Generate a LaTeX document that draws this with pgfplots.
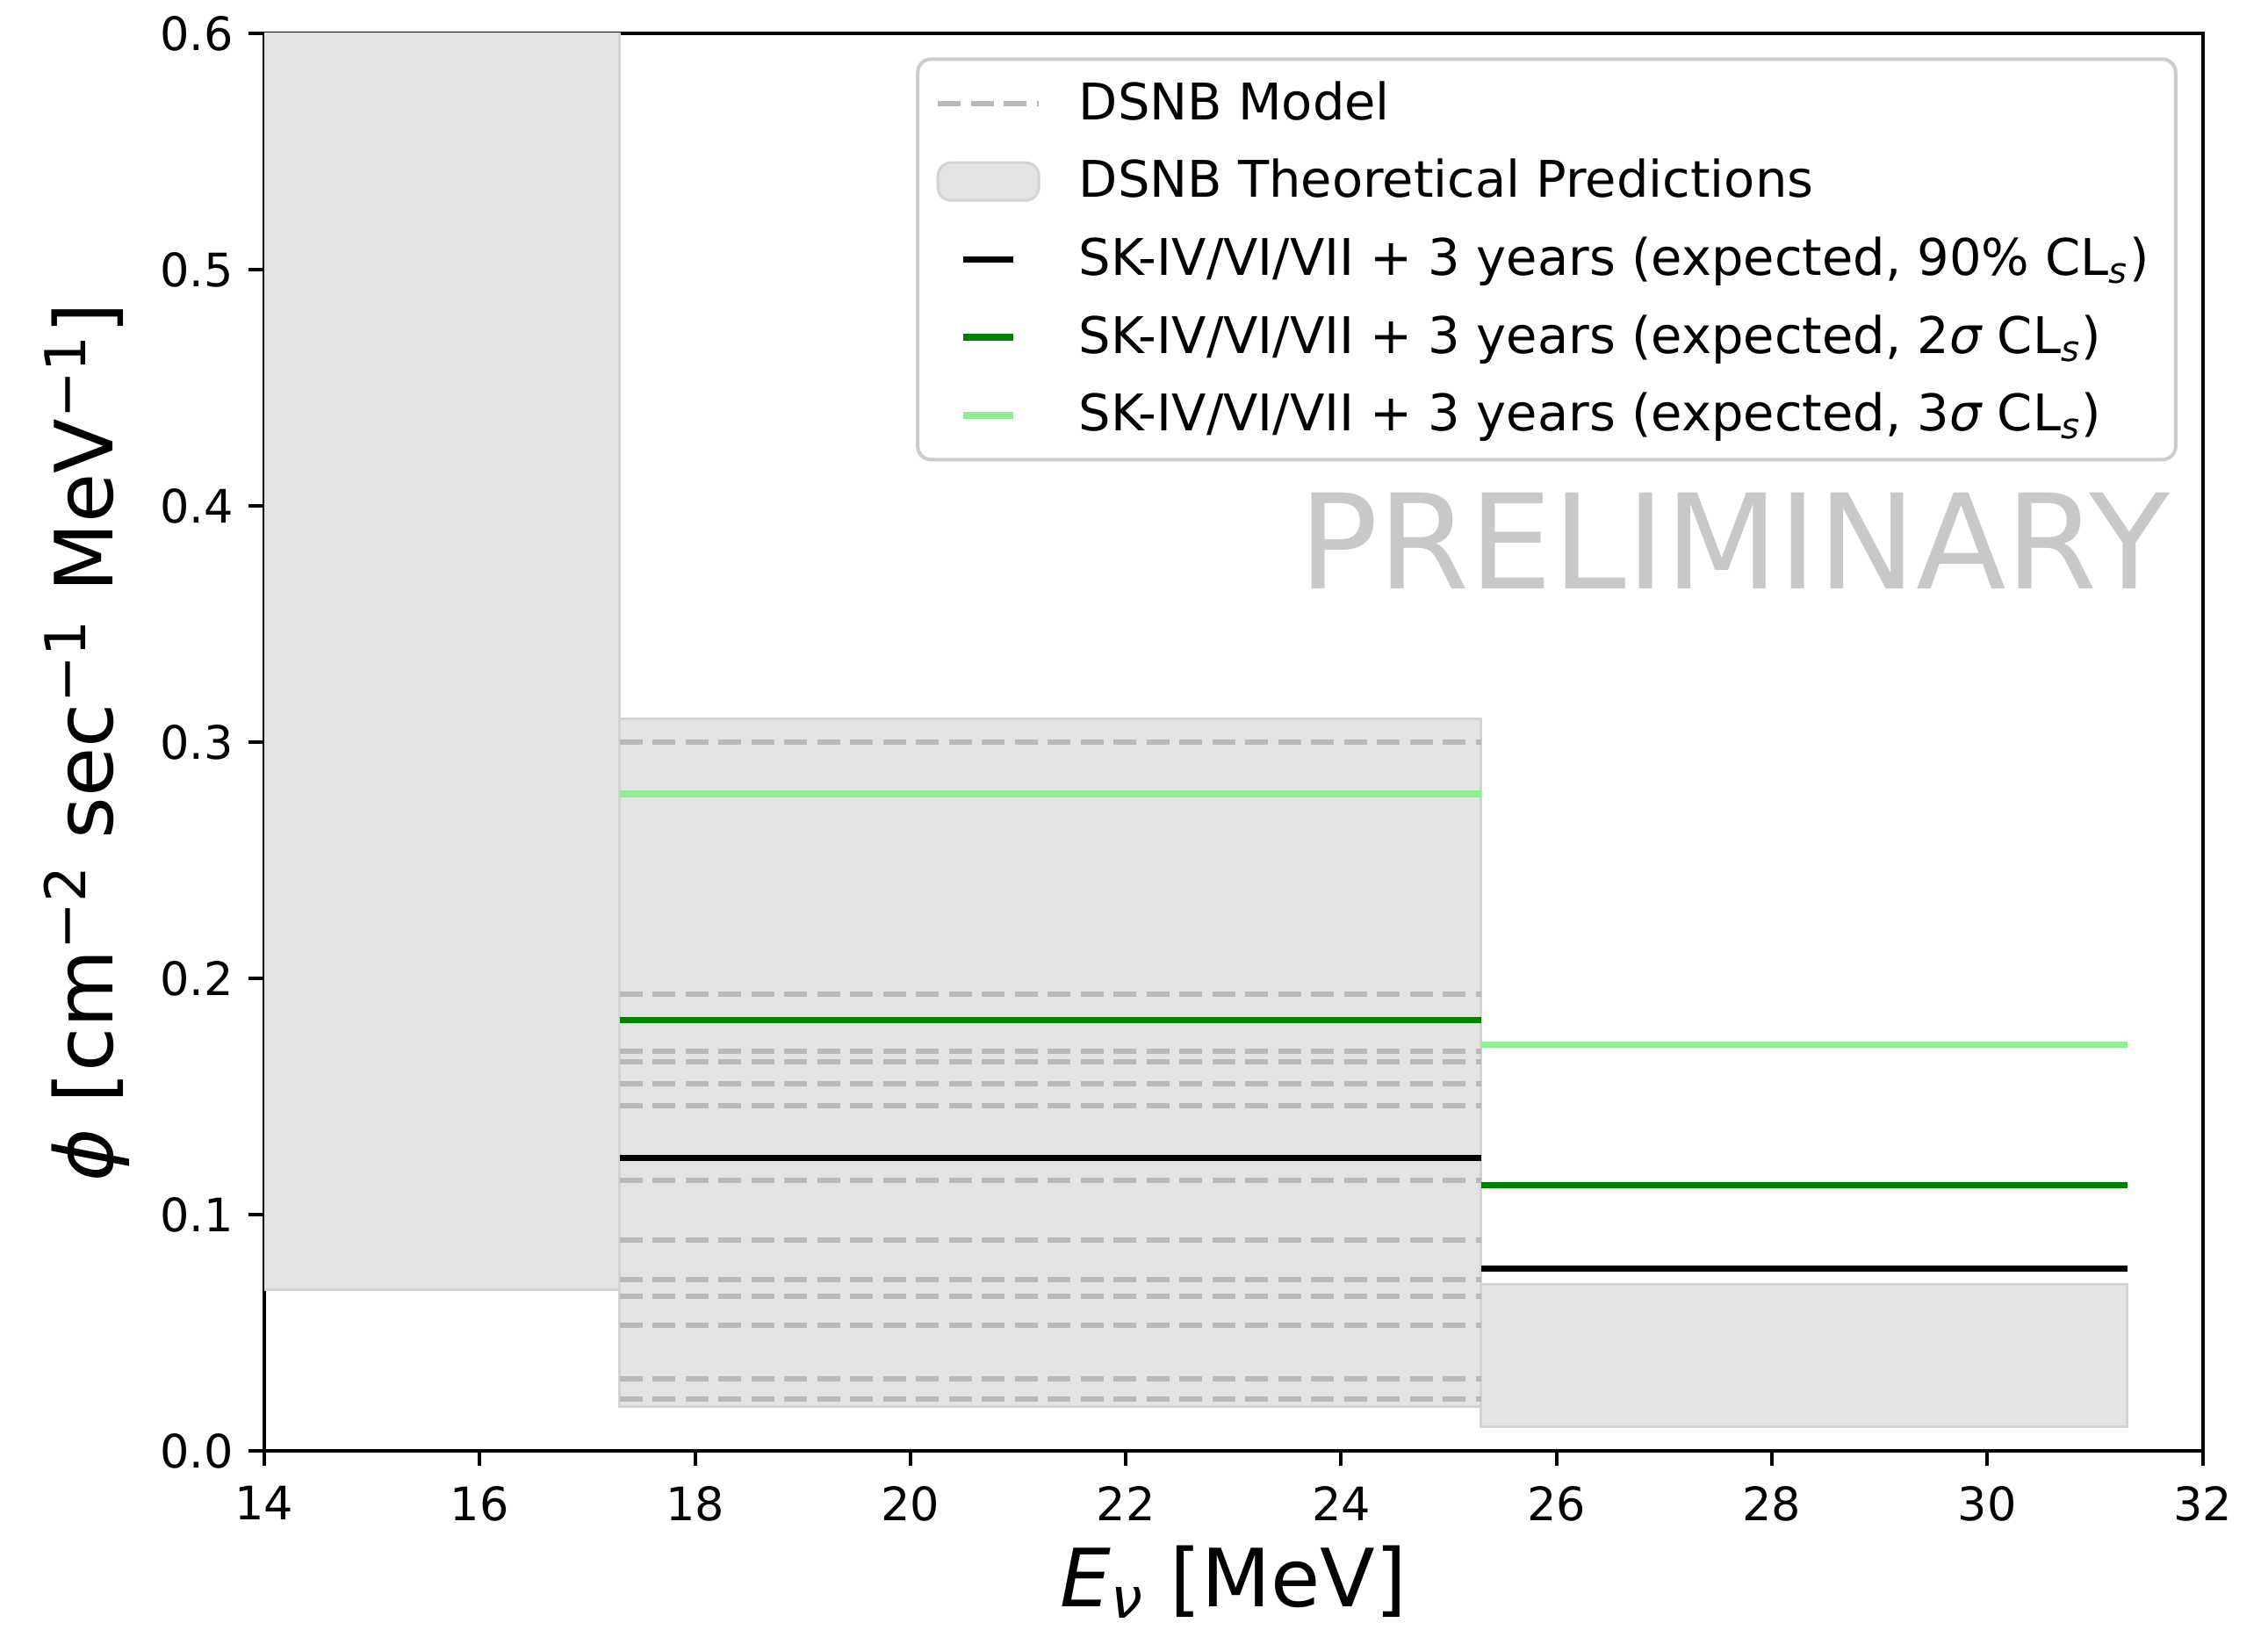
\documentclass[border=0pt]{standalone}
\usepackage{fontspec}
\setmainfont{DejaVu Sans}
\usepackage{pgfplots}
\usepackage{pgfplotstable}
\pgfplotsset{compat=1.18}

\definecolor{bandfill}{RGB}{227,227,227}
\definecolor{bandedge}{RGB}{211,211,211}
\definecolor{modelgray}{RGB}{185,185,185}
\definecolor{limgreen}{RGB}{0,128,0}
\definecolor{limlight}{RGB}{144,238,144}
\definecolor{watermark}{RGB}{200,200,200}
\definecolor{legendedge}{RGB}{204,204,204}

% legend handles
\pgfplotsset{
  shortline/.style={legend image code/.code={\draw[##1] (5.75pt,0pt) -- (17.25pt,0pt);}},
  longline/.style={legend image code/.code={\draw[##1] (0pt,0pt) -- (23pt,0pt);}},
  bandbox/.style={legend image code/.code={\draw[##1] (0pt,-4.3pt) rectangle (23pt,4.3pt);}},
}

% DSNB model predictions in the 17.3--25.3 MeV bin (one segment per model)
\pgfplotstableread{
x y
17.3 0.3000
25.3 0.3000
nan nan
17.3 0.1934
25.3 0.1934
nan nan
17.3 0.1690
25.3 0.1690
nan nan
17.3 0.1646
25.3 0.1646
nan nan
17.3 0.1555
25.3 0.1555
nan nan
17.3 0.1462
25.3 0.1462
nan nan
17.3 0.1145
25.3 0.1145
nan nan
17.3 0.0891
25.3 0.0891
nan nan
17.3 0.0724
25.3 0.0724
nan nan
17.3 0.0655
25.3 0.0655
nan nan
17.3 0.0532
25.3 0.0532
nan nan
17.3 0.0306
25.3 0.0306
nan nan
17.3 0.0221
25.3 0.0221
}\modeltable

% expected limits per energy bin
\pgfplotstableread{
x y
17.3 0.1240
25.3 0.1240
nan nan
25.3 0.0772
31.3 0.0772
}\limninety

\pgfplotstableread{
x y
17.3 0.1823
25.3 0.1823
nan nan
25.3 0.1125
31.3 0.1125
}\limtwosigma

\pgfplotstableread{
x y
17.3 0.2780
25.3 0.2780
nan nan
25.3 0.1720
31.3 0.1720
}\limthreesigma

\begin{document}
\begin{tikzpicture}
\begin{axis}[
  scale only axis,
  width=441.5pt, height=322.8pt,
  xmin=14, xmax=32, ymin=0, ymax=0.6,
  xtick={14,16,18,20,22,24,26,28,30,32},
  ytick={0,0.1,0.2,0.3,0.4,0.5,0.6},
  tick align=outside,
  tick pos=left,
  major tick length=3.5pt,
  tick style={black, line width=0.8pt},
  axis line style={line width=0.8pt},
  /pgf/number format/assume math mode=true,
  ticklabel style={font=\fontsize{10.5}{12.6}\selectfont},
  xticklabel style={yshift=-1pt},
  yticklabel style={/pgf/number format/.cd, fixed, fixed zerofill, precision=1},
  unbounded coords=jump,
  clip=true,
  xlabel={{\itshape E}\textsubscript{\itshape ν} [MeV]},
  ylabel={{\itshape ϕ} [cm\textsuperscript{−2} sec\textsuperscript{−1} MeV\textsuperscript{−1}]},
  label style={font=\fontsize{18.3}{22}\selectfont},
  xlabel style={at={(axis description cs:0.5,-0.110)}, anchor=base},
  ylabel style={at={(axis description cs:-0.0915,0.5)}, anchor=center},
  legend cell align=left,
  legend style={
    at={(0.987,0.983)}, anchor=north east,
    font=\fontsize{11.5}{13.8}\selectfont,
    draw=legendedge, line width=0.8pt, rounded corners=3pt,
    fill=white, inner xsep=4pt, inner ysep=3pt,
    row sep=3.5pt, column sep=6.5pt,
  },
]

% theoretical prediction bands
\addplot[fill=bandfill, draw=bandedge, line width=0.6pt, forget plot]
  coordinates {(13,0.0683) (17.3,0.0683) (17.3,0.68) (13,0.68)} -- cycle;
\addplot[fill=bandfill, draw=bandedge, line width=0.6pt, forget plot]
  coordinates {(17.3,0.0189) (25.3,0.0189) (25.3,0.310) (17.3,0.310)} -- cycle;
\addplot[fill=bandfill, draw=bandedge, line width=0.6pt, forget plot]
  coordinates {(25.3,0.0102) (31.3,0.0102) (31.3,0.0705) (25.3,0.0705)} -- cycle;

% individual DSNB models
\addplot[modelgray, line width=1.2pt, dash pattern=on 5.2pt off 2.3pt, longline]
  table[x=x, y=y] {\modeltable};
\addlegendentry{DSNB Model}

\addlegendimage{fill=bandfill, draw=bandedge, line width=0.6pt, bandbox}
\addlegendentry{DSNB Theoretical Predictions}

\addplot[black, line width=1.5pt, shortline]
  table[x=x, y=y] {\limninety};
\addlegendentry{SK-IV/VI/VII + 3 years (expected, 90\% CL\textsubscript{\itshape s})}

\addplot[limgreen, line width=1.5pt, shortline]
  table[x=x, y=y] {\limtwosigma};
\addlegendentry{SK-IV/VI/VII + 3 years (expected, 2{\itshape σ} CL\textsubscript{\itshape s})}

\addplot[limlight, line width=1.5pt, shortline]
  table[x=x, y=y] {\limthreesigma};
\addlegendentry{SK-IV/VI/VII + 3 years (expected, 3{\itshape σ} CL\textsubscript{\itshape s})}

\node[anchor=base, text=watermark, font=\fontsize{30}{36}\selectfont, inner sep=0pt]
  at (axis cs:27.65,0.3650) {PRELIMINARY};
\end{axis}
\pgfresetboundingbox
\path[use as bounding box]
  ([xshift=-60.2pt,yshift=-40.8pt]current axis.south west)
  rectangle ([xshift=14.9pt,yshift=7.6pt]current axis.north east);
\end{tikzpicture}
\end{document}
